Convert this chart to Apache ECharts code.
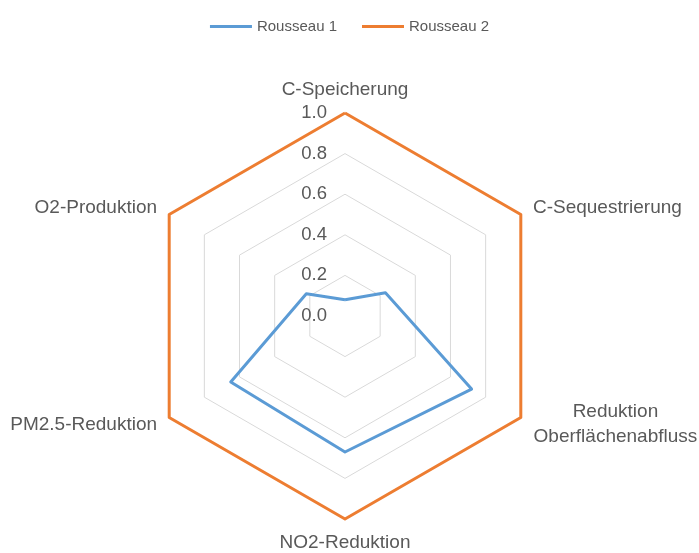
<!DOCTYPE html>
<html>
<head>
<meta charset="utf-8">
<script src="https://cdn.jsdelivr.net/npm/echarts@6/dist/echarts.min.js"></script>
<style>
  html, body { margin: 0; padding: 0; background: #fff; }
  #chart { width: 699px; height: 553px; }
</style>
</head>
<body>
<div id="chart"></div>
<script>
// Kategorien im Uhrzeigersinn, oben beginnend
var categories = ['C-Speicherung', 'C-Sequestrierung', 'Reduktion\nOberflächenabfluss', 'NO2-Reduktion', 'PM2.5-Reduktion', 'O2-Produktion'];
var rousseau1 = [0.08, 0.23, 0.72, 0.67, 0.65, 0.22];
var rousseau2 = [1.0, 1.0, 1.0, 1.0, 1.0, 1.0];
var seriesNames = ['Rousseau 1', 'Rousseau 2'];
var tickMax = 1.0;
var tickStep = 0.2;

var textColor = '#595959';
var fontFamily = '"Liberation Sans", Arial, sans-serif';

// echarts legt Indikatoren gegen den Uhrzeigersinn an -> Reihenfolge drehen
var order = [0, 5, 4, 3, 2, 1];
function reorder(arr) {
	return order.map(function (i) { return arr[i]; });
}

var indicators = reorder(categories).map(function (name, i) {
	var ind = { name: name, min: 0, max: tickMax };
	if (i === 0) {
		//Achsenbeschriftung nur an der oberen Achse
		ind.axisLabel = {
			show: true,
			margin: 18,
			color: textColor,
			fontSize: 18.5,
			fontFamily: fontFamily,
			formatter: function (v) { return v.toFixed(1); }
		};
	}
	return ind;
});

var chart = echarts.init(document.getElementById('chart'));

chart.setOption({
	animation: false,
	color: ['#5B9BD5', '#ED7D31'],
	legend: {
		top: 14,
		left: 'center',
		icon: 'rect',
		itemWidth: 42,
		itemHeight: 3,
		itemGap: 25,
		textStyle: { color: textColor, fontSize: 15, fontFamily: fontFamily },
		data: seriesNames
	},
	radar: {
		center: [345, 316],
		radius: 203,
		shape: 'polygon',
		splitNumber: Math.round(tickMax / tickStep),
		nameGap: 14,
		axisName: {
			color: textColor,
			fontSize: 19,
			fontFamily: fontFamily,
			formatter: function (name) {
				if (name.indexOf('\n') >= 0) {
					return name.split('\n').map(function (s) { return '{c|' + s + '}'; }).join('\n');
				}
				return name;
			},
			rich: {
				c: { width: 165, align: 'center', fontSize: 19, color: textColor, fontFamily: fontFamily, lineHeight: 25 }
			}
		},
		axisLine: { show: false },
		axisTick: { show: false },
		axisLabel: { show: false },
		splitLine: { lineStyle: { color: '#D9D9D9', width: 1 } },
		splitArea: { show: false },
		indicator: indicators
	},
	series: [{
		type: 'radar',
		symbol: 'none',
		data: [
			{ name: seriesNames[0], value: reorder(rousseau1), lineStyle: { width: 3 } },
			{ name: seriesNames[1], value: reorder(rousseau2), lineStyle: { width: 3 } }
		]
	}]
});
</script>
</body>
</html>
